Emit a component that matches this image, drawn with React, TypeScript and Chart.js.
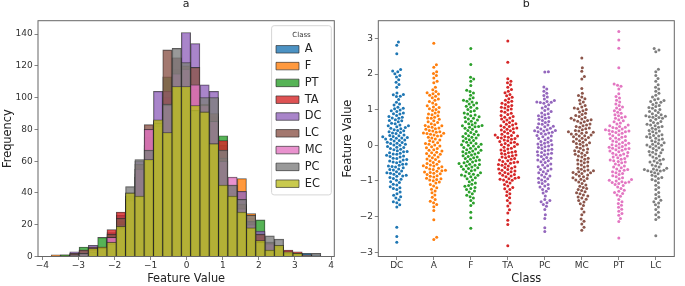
import React, { useEffect, useRef } from 'react';
import { Chart, registerables } from 'chart.js';

Chart.register(...registerables);
Chart.defaults.font.family = "'DejaVu Sans', sans-serif";
Chart.defaults.color = '#333';

// ---------- Panel a: layered histograms ----------
const HIST_CLASSES = ['A', 'F', 'PT', 'TA', 'DC', 'LC', 'MC', 'PC', 'EC'];
const HIST_COLORS = ['#1f77b4', '#ff7f0e', '#2ca02c', '#d62728', '#9467bd', '#8c564b', '#e377c2', '#7f7f7f', '#bcbd22'];
const BIN_CENTERS = [
  -3.627, -3.369, -3.111, -2.854, -2.596, -2.338, -2.081, -1.823, -1.565, -1.308,
  -1.05, -0.792, -0.535, -0.277, -0.019, 0.238, 0.496, 0.754, 1.011, 1.269,
  1.527, 1.784, 2.042, 2.3, 2.557, 2.815, 3.073, 3.33, 3.588,
];
const HIST_A = [0, 0, 1, 2, 3, 6, 15, 26, 36, 50, 68, 84, 98, 110, 109, 105, 95, 85, 70, 44, 32, 24, 15, 8, 5, 2, 1, 2, 1];
const HIST_F = [1, 1, 1, 2, 4, 5, 10, 18, 36, 50, 70, 80, 100, 112, 115, 100, 92, 80, 60, 45, 49, 27, 12, 7, 4, 2, 1, 0, 0];
const HIST_PT = [0, 1, 2, 6, 5, 12, 13, 22, 38, 55, 75, 85, 113, 118, 110, 100, 92, 82, 76, 45, 28, 20, 23, 9, 5, 2, 1, 0, 0];
const HIST_TA = [0, 0, 1, 2, 3, 6, 17, 28, 36, 52, 70, 80, 100, 110, 111, 105, 95, 88, 73, 40, 30, 20, 12, 6, 4, 4, 3, 1, 0];
const HIST_DC = [0, 0, 3, 4, 7, 5, 10, 20, 40, 60, 80, 104, 104, 125, 141, 134, 108, 104, 60, 42, 41, 22, 16, 8, 5, 2, 1, 0, 0];
const HIST_LC = [0, 0, 2, 4, 6, 5, 14, 24, 38, 58, 83, 84, 130, 125, 120, 119, 96, 90, 62, 40, 33, 22, 14, 9, 6, 2, 1, 0, 0];
const HIST_MC = [0, 0, 1, 2, 4, 5, 12, 17, 35, 55, 80, 82, 95, 115, 118, 108, 95, 85, 60, 50, 30, 20, 9, 8, 6, 3, 1, 0, 0];
const HIST_PC = [0, 0, 1, 2, 3, 5, 8, 18, 44, 61, 67, 84, 96, 131, 122, 92, 100, 100, 67, 45, 36, 26, 9, 13, 11, 2, 2, 1, 2];
const HIST_EC = [0, 0, 0, 0, 5, 6, 9, 19, 40, 38, 61, 86, 78, 107, 107, 95, 91, 71, 45, 38, 28, 18, 10, 4, 7, 3, 2, 0, 0];
const HIST_VALUES = [HIST_A, HIST_F, HIST_PT, HIST_TA, HIST_DC, HIST_LC, HIST_MC, HIST_PC, HIST_EC];

// ---------- Panel b: swarm plot ----------
const SWARM_CLASSES = ['DC', 'A', 'F', 'TA', 'PC', 'MC', 'PT', 'LC'];
const SWARM_COLORS = ['#1f77b4', '#ff7f0e', '#2ca02c', '#d62728', '#9467bd', '#8c564b', '#e377c2', '#7f7f7f'];
const SW_DC = [2.90, 2.81, 2.57, 2.13, 2.09, 2.07, 2.01, 1.96, 1.92, 1.84, 1.77, 1.71, 1.63, 1.47, 1.43, 1.42, 1.38, 1.37, 1.29, 1.21, 1.16, 1.13, 1.07, 1.04, 1.03, 0.99, 0.97, 0.95, 0.91, 0.89, 0.88, 0.84, 0.81, 0.79, 0.77, 0.76, 0.72, 0.70, 0.69, 0.66, 0.62, 0.61, 0.57, 0.55, 0.55, 0.52, 0.50, 0.48, 0.47, 0.44, 0.42, 0.41, 0.38, 0.36, 0.35, 0.33, 0.29, 0.28, 0.27, 0.25, 0.24, 0.22, 0.21, 0.20, 0.18, 0.17, 0.15, 0.14, 0.12, 0.09, 0.08, 0.06, 0.05, 0.03, 0.01, 0.00, -0.03, -0.05, -0.06, -0.09, -0.11, -0.12, -0.15, -0.17, -0.18, -0.21, -0.22, -0.24, -0.25, -0.28, -0.30, -0.31, -0.33, -0.36, -0.37, -0.40, -0.41, -0.44, -0.46, -0.47, -0.49, -0.52, -0.53, -0.56, -0.58, -0.59, -0.61, -0.63, -0.66, -0.68, -0.69, -0.72, -0.74, -0.77, -0.78, -0.80, -0.81, -0.84, -0.86, -0.87, -0.90, -0.93, -0.95, -0.98, -1.02, -1.04, -1.09, -1.11, -1.16, -1.19, -1.21, -1.24, -1.31, -1.36, -1.40, -1.44, -1.48, -1.53, -1.58, -1.61, -1.67, -1.73, -2.30, -2.56, -2.72];
const SW_A = [2.87, 2.26, 2.19, 2.07, 2.02, 1.96, 1.89, 1.80, 1.76, 1.63, 1.56, 1.51, 1.48, 1.45, 1.44, 1.41, 1.38, 1.34, 1.30, 1.27, 1.23, 1.19, 1.15, 1.11, 1.08, 1.06, 1.03, 1.01, 0.98, 0.94, 0.91, 0.88, 0.86, 0.83, 0.79, 0.77, 0.76, 0.73, 0.69, 0.66, 0.64, 0.61, 0.58, 0.56, 0.55, 0.52, 0.51, 0.49, 0.47, 0.45, 0.42, 0.40, 0.38, 0.37, 0.35, 0.34, 0.33, 0.31, 0.29, 0.27, 0.26, 0.23, 0.21, 0.18, 0.15, 0.13, 0.10, 0.07, 0.05, 0.03, 0.01, -0.02, -0.04, -0.07, -0.09, -0.12, -0.14, -0.16, -0.19, -0.21, -0.23, -0.25, -0.27, -0.30, -0.33, -0.35, -0.38, -0.40, -0.43, -0.45, -0.48, -0.51, -0.53, -0.55, -0.57, -0.58, -0.60, -0.62, -0.64, -0.66, -0.68, -0.70, -0.71, -0.73, -0.75, -0.76, -0.78, -0.80, -0.82, -0.85, -0.87, -0.89, -0.92, -0.94, -0.96, -0.97, -0.99, -1.03, -1.06, -1.10, -1.14, -1.19, -1.23, -1.28, -1.33, -1.39, -1.46, -1.52, -1.57, -1.61, -1.66, -1.72, -1.83, -2.09, -2.58, -2.64];
const SW_F = [2.72, 2.27, 1.91, 1.86, 1.80, 1.68, 1.55, 1.51, 1.47, 1.41, 1.34, 1.30, 1.27, 1.24, 1.22, 1.19, 1.16, 1.13, 1.10, 1.07, 1.04, 1.01, 0.97, 0.95, 0.91, 0.88, 0.85, 0.83, 0.80, 0.78, 0.76, 0.74, 0.71, 0.68, 0.66, 0.63, 0.61, 0.58, 0.56, 0.55, 0.53, 0.52, 0.51, 0.48, 0.45, 0.42, 0.39, 0.36, 0.33, 0.31, 0.29, 0.27, 0.25, 0.23, 0.21, 0.19, 0.16, 0.14, 0.12, 0.09, 0.07, 0.05, 0.03, 0.02, 0.00, -0.02, -0.04, -0.06, -0.08, -0.10, -0.12, -0.14, -0.16, -0.18, -0.19, -0.21, -0.23, -0.24, -0.27, -0.29, -0.31, -0.33, -0.35, -0.37, -0.39, -0.41, -0.43, -0.45, -0.47, -0.49, -0.51, -0.53, -0.54, -0.56, -0.57, -0.59, -0.61, -0.63, -0.65, -0.67, -0.69, -0.71, -0.74, -0.77, -0.79, -0.81, -0.83, -0.84, -0.86, -0.88, -0.91, -0.94, -0.97, -1.02, -1.06, -1.09, -1.13, -1.15, -1.18, -1.21, -1.24, -1.28, -1.31, -1.36, -1.40, -1.44, -1.48, -1.55, -1.62, -1.69, -1.88, -2.03, -2.33];
const SW_TA = [2.93, 2.33, 1.87, 1.80, 1.76, 1.70, 1.63, 1.57, 1.52, 1.48, 1.43, 1.39, 1.35, 1.31, 1.27, 1.24, 1.21, 1.18, 1.15, 1.12, 1.09, 1.07, 1.05, 1.02, 0.99, 0.96, 0.93, 0.90, 0.87, 0.84, 0.81, 0.79, 0.77, 0.74, 0.71, 0.69, 0.66, 0.64, 0.61, 0.59, 0.57, 0.55, 0.53, 0.51, 0.49, 0.47, 0.45, 0.43, 0.41, 0.38, 0.36, 0.34, 0.31, 0.29, 0.28, 0.26, 0.25, 0.23, 0.22, 0.21, 0.19, 0.17, 0.15, 0.13, 0.11, 0.09, 0.07, 0.05, 0.03, 0.02, 0.00, -0.03, -0.05, -0.08, -0.10, -0.13, -0.15, -0.17, -0.19, -0.21, -0.23, -0.25, -0.27, -0.29, -0.31, -0.33, -0.35, -0.37, -0.39, -0.41, -0.43, -0.45, -0.47, -0.48, -0.50, -0.52, -0.54, -0.56, -0.58, -0.60, -0.62, -0.64, -0.66, -0.68, -0.70, -0.72, -0.74, -0.76, -0.78, -0.80, -0.82, -0.84, -0.86, -0.88, -0.90, -0.92, -0.94, -0.95, -0.97, -0.98, -1.02, -1.06, -1.10, -1.14, -1.18, -1.22, -1.24, -1.30, -1.36, -1.41, -1.47, -1.55, -1.62, -1.70, -1.81, -1.90, -2.10, -2.22, -2.82];
const SW_PC = [2.07, 2.06, 1.64, 1.58, 1.52, 1.46, 1.40, 1.36, 1.30, 1.26, 1.23, 1.22, 1.21, 1.20, 1.18, 1.14, 1.09, 1.05, 1.02, 0.98, 0.95, 0.91, 0.89, 0.86, 0.83, 0.80, 0.78, 0.76, 0.73, 0.70, 0.67, 0.64, 0.61, 0.59, 0.57, 0.54, 0.52, 0.50, 0.48, 0.46, 0.44, 0.42, 0.41, 0.40, 0.38, 0.37, 0.35, 0.33, 0.31, 0.28, 0.26, 0.24, 0.21, 0.19, 0.16, 0.14, 0.11, 0.09, 0.06, 0.04, 0.02, 0.01, -0.02, -0.04, -0.06, -0.09, -0.11, -0.13, -0.15, -0.18, -0.20, -0.22, -0.24, -0.26, -0.28, -0.31, -0.34, -0.36, -0.39, -0.41, -0.43, -0.46, -0.48, -0.52, -0.55, -0.57, -0.60, -0.63, -0.66, -0.68, -0.71, -0.74, -0.77, -0.80, -0.83, -0.86, -0.89, -0.92, -0.94, -0.97, -1.01, -1.04, -1.07, -1.10, -1.14, -1.17, -1.21, -1.24, -1.29, -1.34, -1.42, -1.52, -1.55, -1.58, -1.61, -1.66, -1.71, -1.80, -1.95, -2.05, -2.31, -2.42];
const SW_MC = [2.45, 2.18, 2.08, 1.93, 1.86, 1.60, 1.46, 1.40, 1.36, 1.31, 1.27, 1.22, 1.17, 1.12, 1.08, 1.05, 1.03, 1.01, 0.97, 0.94, 0.90, 0.87, 0.84, 0.81, 0.78, 0.76, 0.74, 0.72, 0.71, 0.70, 0.68, 0.66, 0.63, 0.60, 0.57, 0.55, 0.53, 0.51, 0.49, 0.47, 0.44, 0.42, 0.40, 0.38, 0.37, 0.36, 0.34, 0.32, 0.31, 0.29, 0.27, 0.26, 0.24, 0.22, 0.20, 0.18, 0.16, 0.13, 0.11, 0.09, 0.07, 0.05, 0.03, 0.01, -0.02, -0.05, -0.08, -0.10, -0.13, -0.15, -0.17, -0.20, -0.22, -0.25, -0.28, -0.30, -0.33, -0.36, -0.39, -0.41, -0.44, -0.47, -0.49, -0.52, -0.55, -0.58, -0.61, -0.64, -0.67, -0.69, -0.71, -0.72, -0.74, -0.76, -0.77, -0.79, -0.81, -0.83, -0.86, -0.88, -0.91, -0.93, -0.95, -0.97, -0.99, -1.03, -1.07, -1.11, -1.15, -1.18, -1.21, -1.24, -1.27, -1.30, -1.33, -1.36, -1.39, -1.42, -1.45, -1.48, -1.51, -1.55, -1.59, -1.64, -1.69, -1.78, -1.87, -1.95, -2.07, -2.13, -2.21, -2.30, -2.38];
const SW_PT = [3.20, 2.96, 2.73, 2.18, 1.72, 1.69, 1.66, 1.58, 1.45, 1.37, 1.33, 1.27, 1.22, 1.16, 1.12, 1.08, 1.05, 1.01, 0.97, 0.93, 0.90, 0.86, 0.83, 0.80, 0.78, 0.76, 0.72, 0.69, 0.66, 0.63, 0.60, 0.57, 0.55, 0.53, 0.51, 0.50, 0.48, 0.46, 0.44, 0.42, 0.41, 0.40, 0.39, 0.38, 0.36, 0.34, 0.32, 0.30, 0.27, 0.25, 0.23, 0.21, 0.19, 0.17, 0.14, 0.12, 0.10, 0.08, 0.06, 0.04, 0.02, 0.01, -0.01, -0.03, -0.05, -0.07, -0.08, -0.09, -0.10, -0.12, -0.14, -0.16, -0.18, -0.20, -0.22, -0.24, -0.26, -0.28, -0.30, -0.33, -0.35, -0.37, -0.39, -0.41, -0.43, -0.45, -0.47, -0.49, -0.52, -0.55, -0.58, -0.61, -0.63, -0.66, -0.68, -0.70, -0.72, -0.74, -0.77, -0.79, -0.82, -0.85, -0.88, -0.91, -0.94, -0.96, -0.98, -1.00, -1.02, -1.03, -1.04, -1.05, -1.07, -1.10, -1.13, -1.17, -1.21, -1.26, -1.29, -1.32, -1.35, -1.39, -1.43, -1.52, -1.58, -1.63, -1.68, -1.74, -1.79, -1.85, -1.91, -1.96, -2.05, -2.14, -2.60];
const SW_LC = [2.72, 2.68, 2.63, 2.14, 2.07, 1.96, 1.88, 1.80, 1.70, 1.63, 1.58, 1.52, 1.46, 1.41, 1.36, 1.31, 1.28, 1.26, 1.23, 1.21, 1.19, 1.15, 1.12, 1.09, 1.06, 1.04, 1.01, 0.98, 0.95, 0.92, 0.89, 0.86, 0.84, 0.83, 0.82, 0.80, 0.79, 0.78, 0.76, 0.73, 0.70, 0.67, 0.64, 0.62, 0.59, 0.57, 0.55, 0.53, 0.51, 0.48, 0.45, 0.42, 0.40, 0.38, 0.35, 0.32, 0.30, 0.28, 0.26, 0.24, 0.22, 0.20, 0.18, 0.15, 0.13, 0.10, 0.07, 0.05, 0.03, 0.01, 0.00, -0.02, -0.04, -0.07, -0.09, -0.12, -0.14, -0.17, -0.19, -0.21, -0.24, -0.27, -0.30, -0.33, -0.36, -0.39, -0.42, -0.44, -0.47, -0.49, -0.52, -0.55, -0.58, -0.61, -0.64, -0.66, -0.68, -0.69, -0.70, -0.71, -0.72, -0.74, -0.77, -0.80, -0.84, -0.87, -0.90, -0.93, -0.96, -0.99, -1.05, -1.12, -1.18, -1.24, -1.32, -1.38, -1.44, -1.49, -1.54, -1.58, -1.62, -1.67, -1.73, -1.80, -1.88, -1.95, -2.02, -2.08, -2.54];
const SWARM_VALUES = [SW_DC, SW_A, SW_F, SW_TA, SW_PC, SW_MC, SW_PT, SW_LC];

// ---------- helpers ----------
const TICK_FONT = { size: 9 };
const AXIS_TITLE_FONT = { size: 11.4, lineHeight: 1.2 };
const SPINE = '#666';
const minus = (v: number | string) => String(v).replace('-', '\u2212');

function rgba(hex: string, a: number) {
  const n = parseInt(hex.slice(1), 16);
  return `rgba(${(n >> 16) & 255},${(n >> 8) & 255},${n & 255},${a})`;
}

// beeswarm layout (like seaborn): place each point closest to center without overlap
function beeswarm(ys: number[], d: number): number[] {
  const order = ys.map((_, i) => i).sort((a, b) => ys[a] - ys[b]);
  const placed: { x: number; y: number }[] = [];
  const out = new Array(ys.length).fill(0);
  for (const i of order) {
    const y = ys[i];
    const near = placed.filter((p) => Math.abs(p.y - y) < d);
    const cands = [0];
    for (const p of near) {
      const dy = y - p.y;
      const dx = Math.sqrt(Math.max(d * d - dy * dy, 0));
      cands.push(p.x + dx, p.x - dx);
    }
    cands.sort((a, b) => Math.abs(a) - Math.abs(b));
    let chosen = cands[0];
    for (const c of cands) {
      if (near.every((p) => (c - p.x) ** 2 + (y - p.y) ** 2 >= d * d - 1e-6)) {
        chosen = c;
        break;
      }
    }
    placed.push({ x: chosen, y });
    out[i] = chosen;
  }
  return out;
}

const framePlugin = {
  id: 'axesFrame',
  afterDatasetsDraw(chart: any) {
    const { ctx, chartArea: ca } = chart;
    ctx.save();
    ctx.strokeStyle = SPINE;
    ctx.lineWidth = 1;
    ctx.strokeRect(ca.left, ca.top, ca.right - ca.left, ca.bottom - ca.top);
    ctx.restore();
  },
};

const legendBoxPlugin = {
  id: 'legendBox',
  afterLayout(chart: any) {
    const lg = chart.legend;
    const ca = chart.chartArea;
    if (!lg) return;
    lg.left = ca.right - 63.7;
    lg.top = ca.top + 5;
  },
  beforeDraw(chart: any) {
    const lg = chart.legend;
    const ca = chart.chartArea;
    if (!lg) return;
    const hb = lg.legendHitBoxes || [];
    const last = hb[hb.length - 1];
    const bottom = last ? last.top + last.height + 5.5 : lg.top + 169;
    const ctx = chart.ctx;
    ctx.save();
    ctx.beginPath();
    ctx.roundRect(lg.left + 1, lg.top, ca.right - 3 - (lg.left + 1), bottom - lg.top, 2.5);
    ctx.fillStyle = 'rgba(255,255,255,0.8)';
    ctx.fill();
    ctx.strokeStyle = '#d6d6d6';
    ctx.lineWidth = 1;
    ctx.stroke();
    ctx.restore();
  },
};

function commonScale(extra: any) {
  return {
    grid: { drawOnChartArea: false, drawTicks: true, tickLength: 3.5, color: SPINE, lineWidth: 0.8, offset: false },
    border: { display: false },
    ...extra,
  };
}

function HistogramPanel() {
  const ref = useRef<HTMLCanvasElement>(null);
  useEffect(() => {
    const chart = new Chart(ref.current as HTMLCanvasElement, {
      type: 'bar',
      data: {
        datasets: HIST_CLASSES.map((label, i) => ({
          label,
          data: BIN_CENTERS.map((c, k) => ({ x: c, y: HIST_VALUES[i][k] === 0 ? null : HIST_VALUES[i][k] })),
          backgroundColor: rgba(HIST_COLORS[i], 0.8),
          borderColor: 'rgba(40,40,40,0.8)',
          borderWidth: 0.8,
          barPercentage: 1,
          categoryPercentage: 1,
          grouped: false,
          order: HIST_CLASSES.length - 1 - i,
        })),
      } as any,
      options: {
        animation: false,
        responsive: false,
        devicePixelRatio: 1,
        events: [],
        layout: { padding: { left: 0, right: 5.7, top: 0, bottom: 0 } },
        scales: {
          x: commonScale({
            type: 'linear',
            offset: false,
            min: -4.12,
            max: 4.09,
            ticks: { stepSize: 1, includeBounds: false, padding: 0.2, font: TICK_FONT, color: '#333', maxRotation: 0, callback: (v: any) => minus(v) },
            title: { display: true, text: 'Feature Value', font: AXIS_TITLE_FONT, color: '#222', padding: { top: 0, bottom: 0 } },
            afterFit: (s: any) => { s.height = 29.5; },
          }),
          y: commonScale({
            type: 'linear',
            min: 0,
            max: 148.4,
            ticks: { stepSize: 20, includeBounds: false, padding: 1.7, font: TICK_FONT, color: '#333' },
            title: { display: true, text: 'Frequency', font: AXIS_TITLE_FONT, color: '#222', padding: { top: 1, bottom: 0 } },
            afterFit: (s: any) => { s.width = 38; },
          }),
        },
        plugins: {
          tooltip: { enabled: false },
          title: {
            display: true,
            text: 'a',
            fullSize: false,
            font: { size: 11, weight: 'normal', lineHeight: 0.8 },
            color: '#222',
            padding: { top: 0, bottom: 11.9 },
          },
          legend: {
            position: 'chartArea',
            align: 'start',
            labels: {
              boxWidth: 23,
              boxHeight: 7.5,
              padding: 5.4,
              font: { size: 11.4 },
              color: '#222',
              sort: (a: any, b: any) => a.datasetIndex - b.datasetIndex,
            },
            title: {
              display: true,
              text: 'Class',
              color: '#333',
              font: { size: 7, lineHeight: 1 },
              padding: { top: 5.5, bottom: 0 },
            },
          },
        },
      } as any,
      plugins: [legendBoxPlugin, framePlugin],
    });
    return () => chart.destroy();
  }, []);
  return <canvas ref={ref} width={340} height={286} style={{ position: 'absolute', left: 0, top: 0, width: 340, height: 286 }} />;
}

function SwarmPanel() {
  const ref = useRef<HTMLCanvasElement>(null);
  useEffect(() => {
    const chart = new Chart(ref.current as HTMLCanvasElement, {
      type: 'scatter',
      data: {
        datasets: SWARM_CLASSES.map((label, i) => ({
          label,
          data: SWARM_VALUES[i].map((v) => ({ x: i, y: v })),
          backgroundColor: SWARM_COLORS[i],
          borderWidth: 0,
          pointRadius: 1.5,
          pointHoverRadius: 1.5,
        })),
      },
      options: {
        animation: false,
        responsive: false,
        devicePixelRatio: 1,
        events: [],
        layout: { padding: { left: 0, right: 10.7, top: 0, bottom: 0 } },
        scales: {
          x: commonScale({
            type: 'linear',
            min: -0.5,
            max: 7.5,
            afterBuildTicks: (s: any) => { s.ticks = SWARM_CLASSES.map((_, i) => ({ value: i })); },
            ticks: { padding: 0.2, font: TICK_FONT, color: '#333', maxRotation: 0, autoSkip: false, callback: (v: any) => SWARM_CLASSES[Math.round(v)] ?? '' },
            title: { display: true, text: 'Class', font: AXIS_TITLE_FONT, color: '#222', padding: { top: 0, bottom: 0 } },
            afterFit: (s: any) => { s.height = 29.5; },
          }),
          y: commonScale({
            type: 'linear',
            min: -3.12,
            max: 3.5,
            ticks: { stepSize: 1, includeBounds: false, padding: 1.7, font: TICK_FONT, color: '#333', callback: (v: any) => minus(v) },
            title: { display: true, text: 'Feature Value', font: AXIS_TITLE_FONT, color: '#222', padding: { top: 1.5, bottom: 0 } },
            afterFit: (s: any) => { s.width = 38.3; },
          }),
        },
        plugins: {
          tooltip: { enabled: false },
          legend: { display: false },
          title: {
            display: true,
            text: 'b',
            fullSize: false,
            font: { size: 11, weight: 'normal', lineHeight: 0.8 },
            color: '#222',
            padding: { top: 0, bottom: 11.9 },
          },
        },
      } as any,
      plugins: [framePlugin],
    });
    // swarm offsets computed through the chart's own scales
    const xs: any = chart.scales.x;
    const ys: any = chart.scales.y;
    const ppx = xs.getPixelForValue(1) - xs.getPixelForValue(0);
    const ppy = ys.getPixelForValue(0) - ys.getPixelForValue(1);
    chart.data.datasets.forEach((ds: any, i: number) => {
      const vals = SWARM_VALUES[i];
      const offs = beeswarm(vals.map((v) => v * ppy), 3.6);
      ds.data = vals.map((v, j) => ({ x: i + offs[j] / ppx, y: v }));
    });
    chart.update();
    return () => chart.destroy();
  }, []);
  return <canvas ref={ref} width={345} height={286} style={{ position: 'absolute', left: 340, top: 0, width: 345, height: 286 }} />;
}

export default function App() {
  return (
    <div style={{ position: 'absolute', left: 0, top: 0, width: 685, height: 286, background: '#fff', overflow: 'hidden' }}>
      <HistogramPanel />
      <SwarmPanel />
    </div>
  );
}
